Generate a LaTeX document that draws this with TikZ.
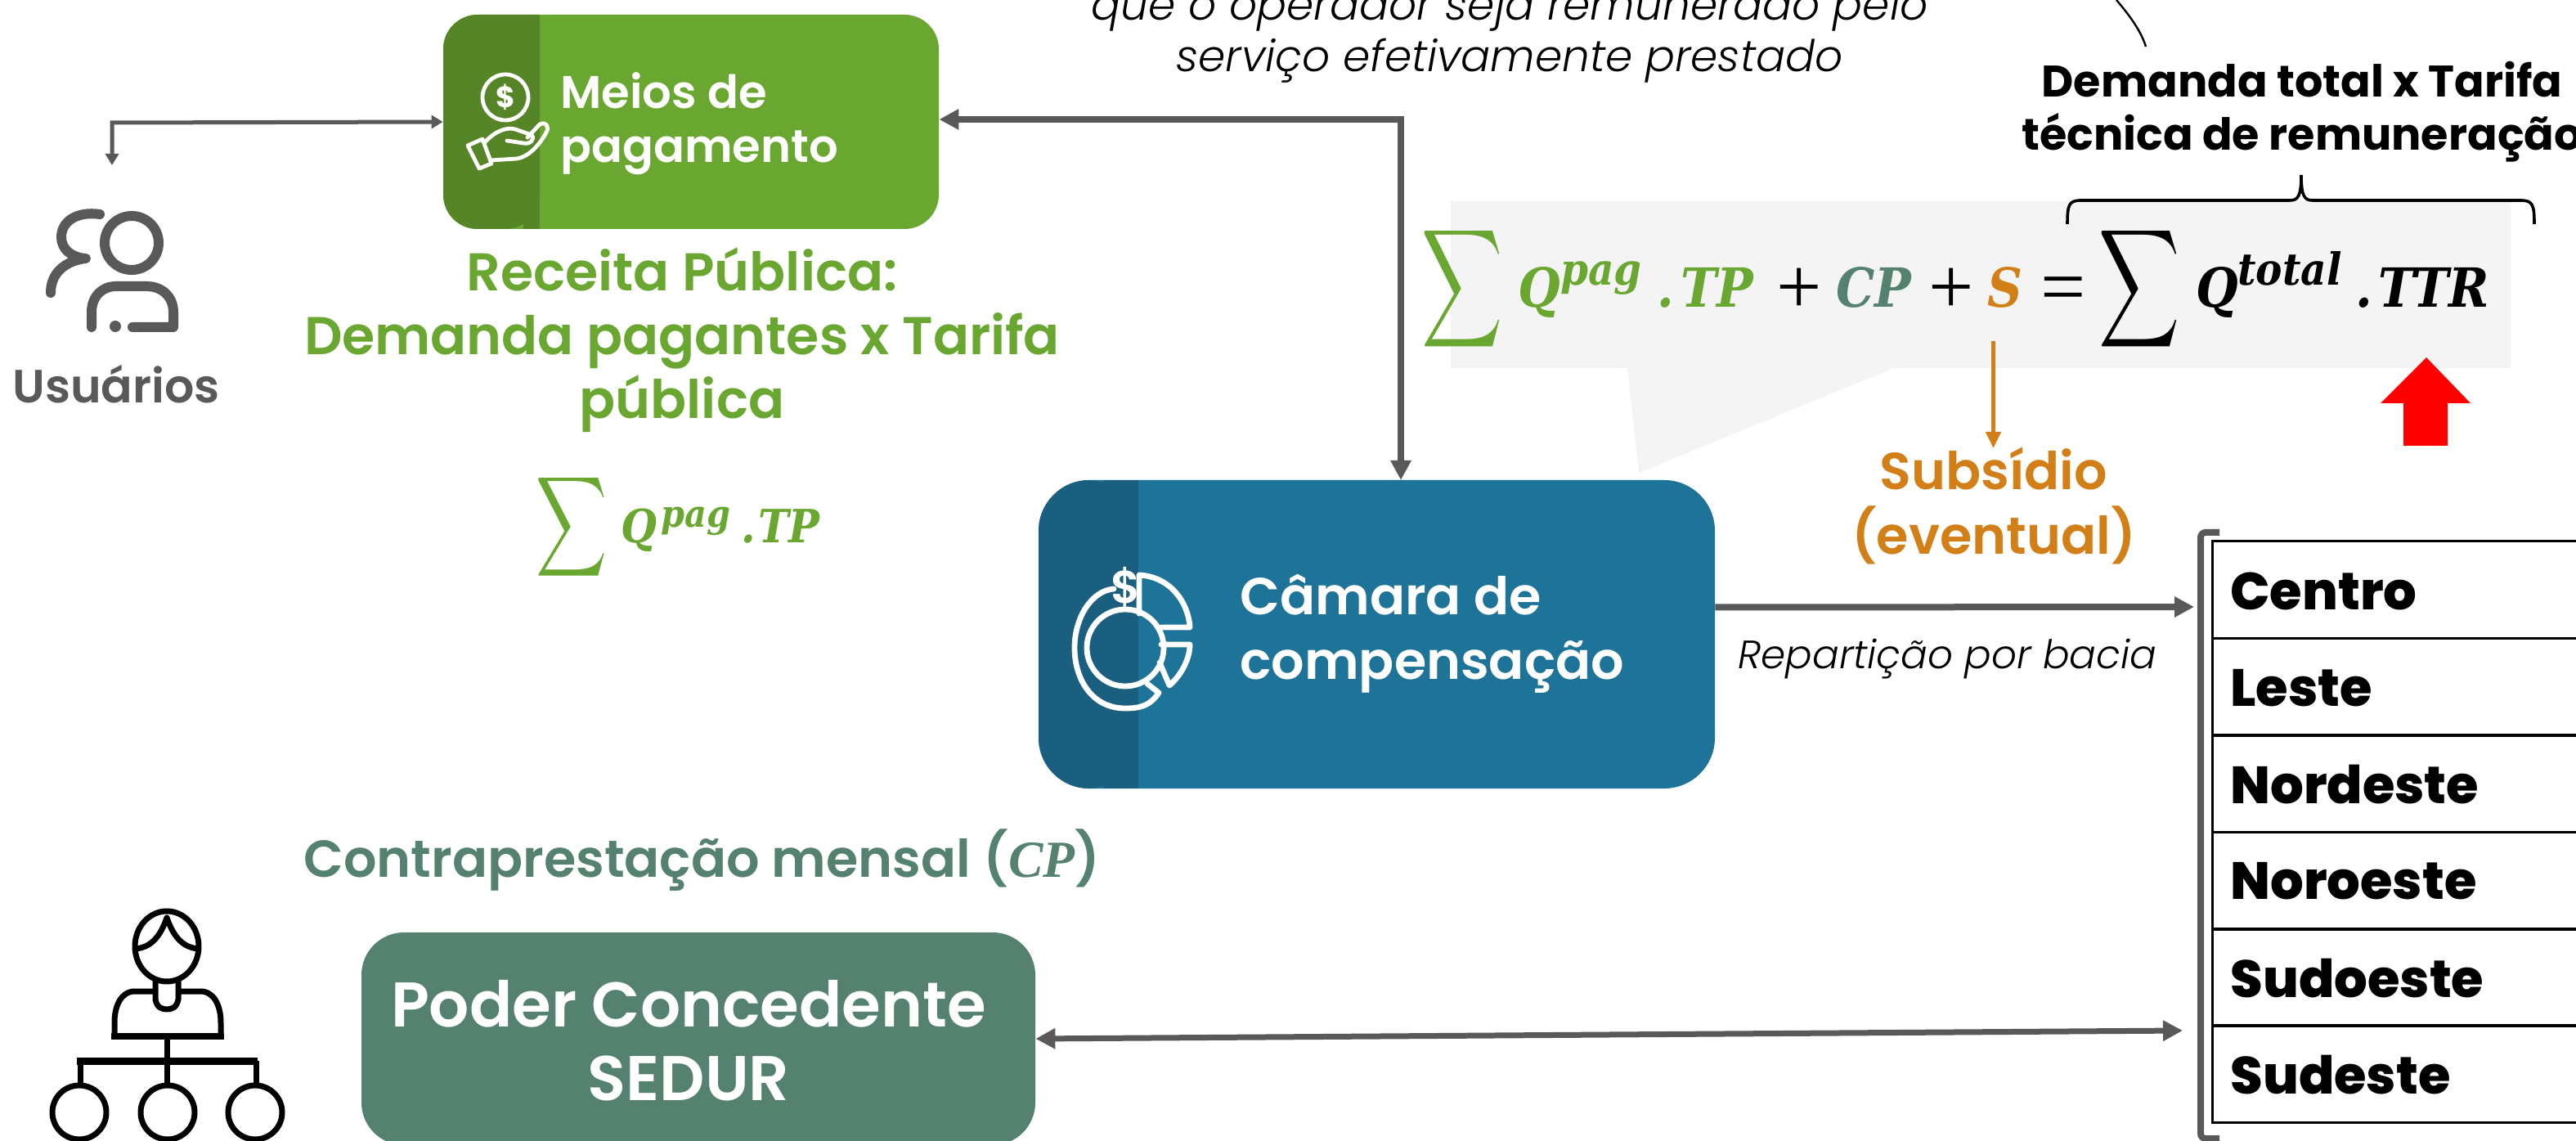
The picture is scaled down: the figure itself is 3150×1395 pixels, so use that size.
\documentclass[tikz,border=0pt]{standalone}
\usepackage{fontspec}
\usepackage{graphicx}
\usetikzlibrary{arrows.meta,calc}
\setmainfont{Poppins}
\newfontfamily\fsemi{Poppins SemiBold}
\newfontfamily\fheavy{Poppins Bold}
\newfontfamily\fbold{Poppins ExtraBold}
\newfontfamily\flight{Poppins Light Italic}
\newfontfamily\fmath{DejaVu Serif Condensed Bold Italic}
\newfontfamily\fcp{Liberation Serif Bold Italic}
\newfontfamily\fop{Liberation Serif}
\definecolor{cgreen}{HTML}{69A730}
\definecolor{cgreend}{HTML}{568528}
\definecolor{cblue}{HTML}{1E7399}
\definecolor{cblued}{HTML}{1A5F80}
\definecolor{cteal}{HTML}{54826F}
\definecolor{cgray}{HTML}{595959}
\definecolor{corange}{HTML}{D27F17}
\definecolor{clight}{HTML}{F4F4F4}
\tikzset{
  boxnode/.style={rounded corners=21pt,inner sep=0,draw=none},
  lbl/.style={inner sep=0,align=center,font=\fsemi},
  fm/.style={inner sep=0,anchor=base west,font=\fmath\fontsize{33}{33}\selectfont},
  fmsup/.style={inner sep=0,anchor=base west,font=\fmath\fontsize{27}{27}\selectfont},
  fmop/.style={inner sep=0,anchor=base west,font=\fop\fontsize{49}{49}\selectfont},
  fs/.style={inner sep=0,anchor=base west,font=\fmath\fontsize{28}{28}\selectfont},
  fssup/.style={inner sep=0,anchor=base west,font=\fmath\fontsize{23}{23}\selectfont},
  conn/.style={draw=cgray,line width=4pt,-{Triangle[length=12pt,width=12pt]}},
  rowbox/.style={draw=black,line width=1.5pt,minimum width=500pt,minimum height=59.5pt,inner sep=0},
  rowtxt/.style={inner sep=0,anchor=west,font=\fbold\fontsize{32}{33}\selectfont},
  icon/.style={draw=white,line width=3.4pt,line join=round,line cap=round},
  blk/.style={draw=black,line width=3.5pt,line join=round}
}
\begin{document}
\begin{tikzpicture}[x=.5pt,y=-.5pt]
\useasboundingbox (0,0) rectangle (3150,1395);
\clip (0,0) rectangle (3150,1395);
\fill[white] (0,0) rectangle (3150,1395);

% callout
\fill[clight] (1774,246) -- (3070,246) -- (3070,450) -- (2315,450) -- (2004,578) -- (1990,450) -- (1774,450) -- cycle;

% boxes
\node[boxnode,fill=cgreen,minimum width=303pt,minimum height=131pt] (meios) at (845,149) {};
\fill[cgreend,rounded corners=21pt] (660,18) -- (542,18) -- (542,280) -- (660,280) [sharp corners] -- cycle;
\fill[cgreend] (640,18) rectangle (660,280);
\node[boxnode,fill=cblue,rounded corners=31pt,minimum width=413.5pt,minimum height=188.5pt] (camara) at (1683.5,775.5) {};
\fill[cblued,rounded corners=31pt] (1392,587) -- (1270,587) -- (1270,964) -- (1392,964) -- cycle;
\fill[cblued] (1350,587) rectangle (1392,964);
\node[boxnode,fill=cteal,rounded corners=26pt,minimum width=412pt,minimum height=130pt] (poder) at (854,1270) {};

% box texts
\node[lbl,anchor=west,align=left,text=white,font=\fsemi\fontsize{28}{33}\selectfont] (meiost) at (685,151) {Meios de\\pagamento};
\node[lbl,anchor=west,align=left,text=white,font=\fsemi\fontsize{31.8}{39.5}\selectfont] (camarat) at (1516,775) {Câmara de\\compensação};
\node[lbl,text=white,font=\fsemi\fontsize{38.6}{45}\selectfont] (podert) at (842,1272) {Poder Concedente\\SEDUR};

% green labels
\node[lbl,text=cgreen,font=\fsemi\fontsize{32.5}{39}\selectfont] (receita) at (834,416) {Receita Pública:\\Demanda pagantes x Tarifa\\pública};
\node[lbl,text=cgray,font=\fsemi\fontsize{28.5}{30}\selectfont] (usuarios) at (142,470) {Usuários};
\node[lbl,anchor=west,text=cteal,font=\fsemi\fontsize{31.8}{36}\selectfont] (contra) at (371,1052) {Contraprestação mensal ({\fcp CP})};
\node[lbl,text=corange,font=\fsemi\fontsize{31.8}{39.5}\selectfont] (subsidio) at (2438,618) {Subsídio\\(eventual)};
\node[lbl,text=black,font=\fheavy\fontsize{27}{32.5}\selectfont] (demanda) at (2815,137) {Demanda total x Tarifa\\técnica de remuneração};

% italic notes
\node[inner sep=0,align=center,font=\flight\fontsize{26.7}{31.5}\selectfont] (nota) at (1846,43) {que o operador seja remunerado pelo\\serviço efetivamente prestado};
\node[inner sep=0,font=\flight\fontsize{24.2}{28}\selectfont] (repart) at (2381,806) {Repartição por bacia};

% small formula
\node[inner sep=0,anchor=north west,text=cgreen] (ssum) at (655,576) {\resizebox*{43.5pt}{68.4pt}{$\displaystyle\sum$}};
\node[fs,text=cgreen] (sq) at (759,664) {Q};
\node[fssup,text=cgreen] (spag) at (808,645) {pag};
\node[fs,text=cgreen] (sdot) at (906,664) {.};
\node[fs,text=cgreen] (stp) at (927,664) {TP};

% big formula
\node[inner sep=0,anchor=north west,text=cgreen] (bsum) at (1738,272) {\resizebox*{49.6pt}{80.8pt}{$\displaystyle\sum$}};
\node[fm,text=cgreen] (bq) at (1856,376) {Q};
\node[fmsup,text=cgreen] (bpag) at (1908,349) {pag};
\node[fm,text=cgreen] (bdot) at (2026,376) {.};
\node[fm,text=cgreen] (btp) at (2055,376) {TP};
\node[fmop] (bp1) at (2172,384) {+};
\node[fm,text=cteal] (bcp) at (2245,376) {CP};
\node[fmop] (bp2) at (2358,384) {+};
\node[fm,text=corange] (bs) at (2430,376) {S};
\node[fmop] (beq) at (2495,384) {=};
\node[inner sep=0,anchor=north west,text=black] (bsum2) at (2566,272) {\resizebox*{49.6pt}{80.8pt}{$\displaystyle\sum$}};
\node[fm] (bq2) at (2685,376) {Q};
\node[fmsup] (btot) at (2736,349) {total};
\node[fm] (bdot2) at (2880,376) {.};
\node[fm] (bttr) at (2908,376) {TTR};

% table
\node[rowbox] (r1) at (3205,721.5) {};
\node[rowbox] (r2) at (3205,840) {};
\node[rowbox] (r3) at (3205,958) {};
\node[rowbox] (r4) at (3205,1076.5) {};
\node[rowbox] (r5) at (3205,1195) {};
\node[rowbox] (r6) at (3205,1313) {};
\node[rowtxt] (t1) at (2727,723) {Centro};
\node[rowtxt] (t2) at (2727,841) {Leste};
\node[rowtxt] (t3) at (2727,959) {Nordeste};
\node[rowtxt] (t4) at (2727,1077) {Noroeste};
\node[rowtxt] (t5) at (2727,1196) {Sudoeste};
\node[rowtxt] (t6) at (2727,1314) {Sudeste};
\draw[cgray,line width=4pt,rounded corners=3pt] (2714,651) -- (2691,651) -- (2691,1392) -- (2714,1392);

% free ends
\coordinate (uDown) at (137,202);
\coordinate (uCorner) at (137,150);
\coordinate (camIn) at (1713,587);
\coordinate (tabA) at (2683,742);
\coordinate (tabB) at (2669,1260);
\coordinate (sStart) at (2437.5,417);
\coordinate (sEnd) at (2437.5,548);

% connectors
\draw[draw=cgray,line width=2.5pt,{Triangle[length=7pt,width=8pt]}-{Triangle[length=7pt,width=8pt]}] (uDown) -- (uCorner) -- (meios.west);
\draw[draw=cgray,line width=4pt,{Triangle[length=12pt,width=12pt]}-{Triangle[length=12pt,width=12pt]}] ([yshift=1.5pt]meios.east) -| (camIn);
\draw[conn] ([yshift=16.5pt]camara.east) -- (tabA);
\draw[draw=cgray,line width=3.5pt,{Triangle[length=12pt,width=12pt]}-{Triangle[length=12pt,width=12pt]}] (poder.east) -- (tabB);
\draw[draw=corange,line width=2.2pt,-{Triangle[length=10pt,width=9pt]}] (sStart) -- (sEnd);

% red arrow
\fill[red] (2967,437) -- (3021,493) -- (2993,493) -- (2993,545) -- (2939,545) -- (2939,493) -- (2911,493) -- cycle;

% brace
\draw[black,line width=1.8pt] (2528,274) .. controls (2528,250) and (2530,245) .. (2545,245) -- (2800,245) .. controls (2810,245) and (2814,240) .. (2814,214) .. controls (2814,240) and (2818,245) .. (2828,245) -- (3082,245) .. controls (3097,245) and (3099,250) .. (3099,274);
\draw[black,line width=1.2pt] (2588,0) .. controls (2605,20) and (2618,38) .. (2624,57);

% users icon
\draw[cgray,line width=6pt] (161,297) circle[radius=16.5pt];
\draw[cgray,line width=6pt,line cap=round,line join=round] (162,400) -- (212,400) -- (212,382) .. controls (212,360) and (195,350) .. (180,350) -- (142,350) .. controls (125,350) and (112,362) .. (112,382) -- (112,400);
\fill[cgray] (141,399) circle[radius=3.5pt];
\draw[cgray,line width=6pt,line cap=round,line join=round] (122,262) .. controls (95,258) and (75,270) .. (75,290) .. controls (75,305) and (88,315) .. (105,316) .. controls (85,318) and (62,330) .. (62,358);

% chart icon
\draw[icon] (1376,792) circle[radius=23.5pt];
\draw[icon] (1403,836) -- (1417,847) .. controls (1405,865) and (1390,866) .. (1376,866) .. controls (1335,866) and (1314,830) .. (1314,792) .. controls (1314,755) and (1335,722) .. (1362,720);
\draw[icon] (1393,750) -- (1393,703) .. controls (1430,705) and (1453,735) .. (1455,767) -- (1420,767);
\draw[icon] (1420,788) -- (1455,788) .. controls (1455,805) and (1445,825) .. (1430,838) -- (1418,810);
\node[inner sep=0,text=white,font=\fsemi\fontsize{28}{28}\selectfont] (dol2) at (1377,718) {\$};

% money-hand icon
\draw[draw=white,line width=2.4pt] (618,119) circle[radius=14pt];
\node[inner sep=0,text=white,font=\fheavy\fontsize{18}{18}\selectfont] (dol1) at (618,119) {\$};
\draw[draw=white,line width=2.4pt,line join=round] (572,178) -- (590,170) -- (601,200) -- (586,206) -- cycle;
\draw[draw=white,line width=2.4pt,line join=round,line cap=round] (592,175) .. controls (605,160) and (620,155) .. (630,158) -- (650,165) .. controls (655,170) and (648,177) .. (640,175) -- (620,172);
\draw[draw=white,line width=2.4pt,line join=round,line cap=round] (645,168) -- (660,152) .. controls (668,148) and (672,155) .. (668,162) .. controls (658,180) and (645,192) .. (632,194) -- (600,196);

% person icon
\draw[blk] (204,1157) ellipse[x radius=19.5pt,y radius=21.5pt];
\draw[blk] (166,1160) .. controls (185,1158) and (196,1145) .. (204,1122) .. controls (212,1145) and (223,1158) .. (242,1160);
\draw[blk] (190,1198) -- (190,1222) .. controls (192,1232) and (198,1234) .. (204,1234) .. controls (210,1234) and (216,1232) .. (218,1222) -- (218,1198);
\draw[blk] (190,1212) -- (165,1212) .. controls (148,1212) and (140,1230) .. (140,1250) -- (140,1267) -- (270,1267) -- (270,1250) .. controls (270,1230) and (262,1212) .. (245,1212) -- (218,1212);
\draw[blk,line width=4pt] (136,1267) -- (274,1267);
\draw[blk] (204,1267) -- (204,1330);
\draw[blk,line width=4.5pt] (94,1297) -- (315,1297);
\draw[blk] (98,1297) -- (98,1326);
\draw[blk] (313,1297) -- (313,1326);
\draw[blk] (97,1360) circle[radius=16.5pt];
\draw[blk] (205,1360) circle[radius=16.5pt];
\draw[blk] (312,1360) circle[radius=16.5pt];
\end{tikzpicture}
\end{document}
